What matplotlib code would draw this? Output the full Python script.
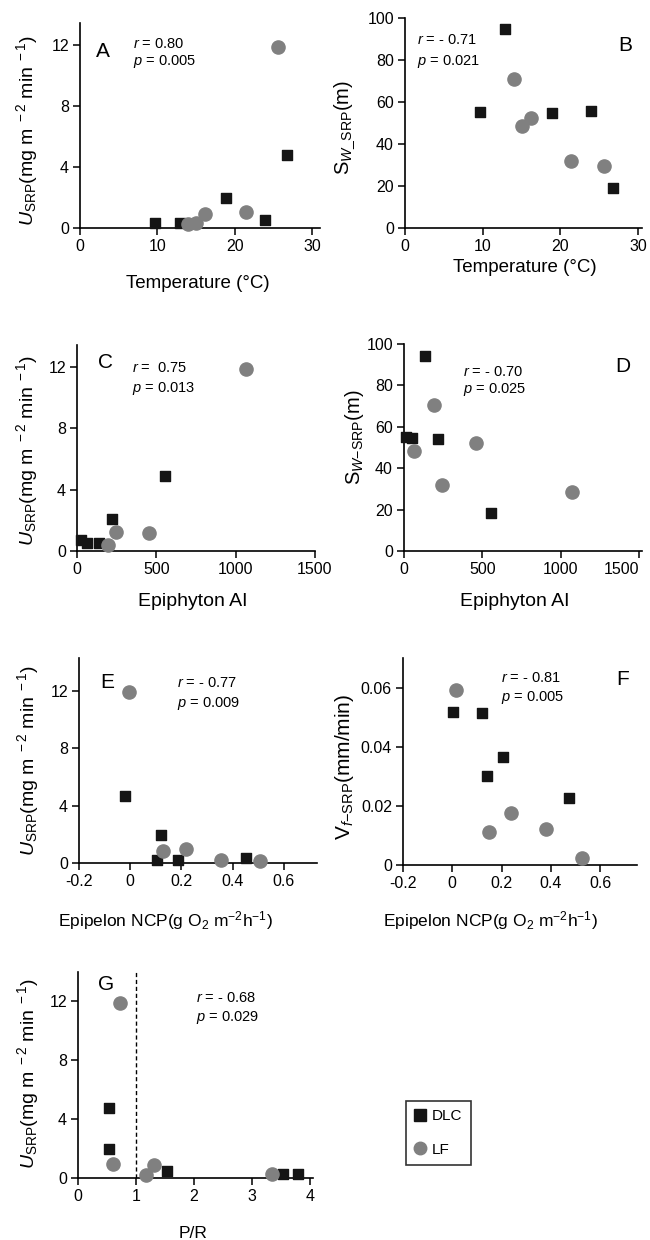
import matplotlib
matplotlib.use("Agg")
import matplotlib.pyplot as plt
from matplotlib.lines import Line2D

plt.rcParams['font.family'] = ['Liberation Sans', 'DejaVu Sans']
plt.rcParams['mathtext.fontset'] = 'custom'
plt.rcParams['mathtext.rm'] = 'Liberation Sans'
plt.rcParams['mathtext.it'] = 'Liberation Sans:italic'
plt.rcParams['mathtext.bf'] = 'Liberation Sans:bold'

# ---- data ----
# A: temperature vs U_SRP
a_dlc_x = [9.7, 12.9, 18.9, 23.9, 26.8]
a_dlc_y = [0.3, 0.3, 2.0, 0.5, 4.8]
a_lf_x = [14.0, 15.0, 16.2, 21.4, 25.6]
a_lf_y = [0.25, 0.3, 0.95, 1.05, 11.9]

# B: temperature vs Sw
b_dlc_x = [9.7, 12.9, 18.9, 23.9, 26.8]
b_dlc_y = [55.4, 94.9, 54.7, 55.9, 18.9]
b_lf_x = [14.0, 15.0, 16.2, 21.4, 25.6]
b_lf_y = [71.1, 48.6, 52.6, 32.1, 29.4]

# C: epiphyton AI vs U_SRP
c_dlc_x = [23, 63, 139, 221, 553]
c_dlc_y = [0.75, 0.5, 0.55, 2.1, 4.9]
c_lf_x = [196, 246, 453, 1063]
c_lf_y = [0.4, 1.25, 1.15, 11.9]

# D: epiphyton AI vs Sw
d_dlc_x = [11, 53, 134, 215, 553]
d_dlc_y = [55.3, 54.5, 94.0, 54.2, 18.2]
d_lf_x = [66, 191, 245, 457, 1070]
d_lf_y = [48.5, 70.3, 31.9, 52.1, 28.7]

# E: epipelon NCP vs U_SRP
e_dlc_x = [-0.019, 0.121, 0.103, 0.186, 0.453]
e_dlc_y = [4.7, 1.93, 0.19, 0.23, 0.35]
e_lf_x = [-0.006, 0.128, 0.219, 0.355, 0.509]
e_lf_y = [11.95, 0.86, 0.97, 0.19, 0.12]

# F: epipelon NCP vs Vf
f_dlc_x = [0.003, 0.122, 0.205, 0.143, 0.474]
f_dlc_y = [0.0518, 0.0513, 0.0364, 0.030, 0.0227]
f_lf_x = [0.014, 0.149, 0.24, 0.379, 0.528]
f_lf_y = [0.0592, 0.0112, 0.0177, 0.0121, 0.0022]

# G: P/R vs U_SRP
g_dlc_x = [0.54, 0.54, 1.53, 3.53, 3.79]
g_dlc_y = [4.77, 1.99, 0.48, 0.29, 0.29]
g_lf_x = [0.73, 0.60, 1.18, 1.31, 3.34]
g_lf_y = [11.9, 0.97, 0.18, 0.9, 0.25]

ncp_ticks = [-0.2, 0, 0.2, 0.4, 0.6]
ncp_labels = ['-0.2', '0', '0.2', '0.4', '0.6']
vf_ticks = [0, 0.02, 0.04, 0.06]
vf_labels = ['0', '0.02', '0.04', '0.06']

W, H = 650, 1240
fig = plt.figure(figsize=(6.5, 12.4), dpi=100)


def rect(l, r, t, b):
    return [l / W, 1 - b / H, (r - l) / W, (b - t) / H]


SQ = '#151515'
CI = '#808080'

u_label = r'$U_{\rm SRP}$(mg m$^{\rm\ -2}$ min$^{\rm\ -1}$)'
sw_label_b = r'S$_{W\rm\_SRP}$(m)'
sw_label_d = r'S$_{W\rm{-SRP}}$(m)'
vf_label = r'V$_{f\rm{-SRP}}$(mm/min)'
ncp_label = r'Epipelon NCP(g O$_2$ m$^{-2}$h$^{-1}$)'


def panel(box, dlc_x, dlc_y, lf_x, lf_y, xlim, ylim, xticks, yticks,
          letter, lpos, rtxt, ptxt, tpos, xticklabels=None, yticklabels=None):
    ax = fig.add_axes(rect(*box))
    ax.scatter(dlc_x, dlc_y, marker='s', s=62, color=SQ, zorder=3, clip_on=False)
    ax.scatter(lf_x, lf_y, marker='o', s=90, color=CI, zorder=3, clip_on=False)
    ax.set_xlim(*xlim)
    ax.set_ylim(*ylim)
    ax.set_xticks(xticks)
    ax.set_yticks(yticks)
    if xticklabels is not None:
        ax.set_xticklabels(xticklabels)
    if yticklabels is not None:
        ax.set_yticklabels(yticklabels)
    for s in ['top', 'right']:
        ax.spines[s].set_visible(False)
    for s in ['left', 'bottom']:
        ax.spines[s].set_linewidth(1.2)
    ax.tick_params(direction='out', length=5, width=1.1, labelsize=11.5, pad=3)
    ax.text(lpos[0], lpos[1], letter, transform=ax.transAxes, fontsize=15,
            ha='center', va='center')
    ax.text(tpos[0], tpos[1], rtxt, transform=ax.transAxes, fontsize=10.5,
            ha='left', va='center')
    ax.text(tpos[0], tpos[2], ptxt, transform=ax.transAxes, fontsize=10.5,
            ha='left', va='center')
    return ax


axA = panel((80, 320, 23, 228), a_dlc_x, a_dlc_y, a_lf_x, a_lf_y,
            (0, 31), (0, 13.45), [0, 10, 20, 30], [0, 4, 8, 12],
            'A', (0.096, 0.86), r'$r$ = 0.80', r'$p$ = 0.005', (0.22, 0.90, 0.81))
axB = panel((405, 642, 18, 228), b_dlc_x, b_dlc_y, b_lf_x, b_lf_y,
            (0, 30.5), (0, 100), [0, 10, 20, 30], [0, 20, 40, 60, 80, 100],
            'B', (0.93, 0.87), r'$r$ = - 0.71', r'$p$ = 0.021', (0.05, 0.895, 0.795))
axC = panel((77, 315, 345, 551), c_dlc_x, c_dlc_y, c_lf_x, c_lf_y,
            (0, 1500), (0, 13.45), [0, 500, 1000, 1500], [0, 4, 8, 12],
            'C', (0.118, 0.917), r'$r$ =  0.75', r'$p$ = 0.013', (0.23, 0.888, 0.79))
axD = panel((404, 642, 344, 551), d_dlc_x, d_dlc_y, d_lf_x, d_lf_y,
            (0, 1520), (0, 100), [0, 500, 1000, 1500], [0, 20, 40, 60, 80, 100],
            'D', (0.92, 0.89), r'$r$ = - 0.70', r'$p$ = 0.025', (0.248, 0.865, 0.778))
axE = panel((79, 317, 658, 863), e_dlc_x, e_dlc_y, e_lf_x, e_lf_y,
            (-0.2, 0.73), (0, 14.3), ncp_ticks, [0, 4, 8, 12],
            'E', (0.118, 0.88), r'$r$ = - 0.77', r'$p$ = 0.009', (0.41, 0.878, 0.78),
            xticklabels=ncp_labels)
axF = panel((403, 637, 658, 865), f_dlc_x, f_dlc_y, f_lf_x, f_lf_y,
            (-0.2, 0.75), (0, 0.07), ncp_ticks, vf_ticks,
            'F', (0.94, 0.894), r'$r$ = - 0.81', r'$p$ = 0.005', (0.42, 0.903, 0.807),
            xticklabels=ncp_labels, yticklabels=vf_labels)
axG = panel((78, 313, 972, 1178), g_dlc_x, g_dlc_y, g_lf_x, g_lf_y,
            (0, 4.05), (0, 14.0), [0, 1, 2, 3, 4], [0, 4, 8, 12],
            'G', (0.12, 0.937), r'$r$ = - 0.68', r'$p$ = 0.029', (0.5, 0.874, 0.777))
axG.axvline(1, color='black', linestyle='--', linewidth=1.0, dashes=(3, 2))

# keep the cut-off 1500 label of D inside the canvas
axD.get_xticklabels()[-1].set_ha('right')


# axis labels placed in figure pixels
def flabel(x, y, s, rot=0, size=12.5):
    fig.text(x / W, 1 - y / H, s, rotation=rot, ha='center', va='center', fontsize=size)


flabel(198, 283, 'Temperature (°C)', size=13.5)
flabel(525, 267, 'Temperature (°C)', size=13.5)
flabel(193, 602, 'Epiphyton AI', size=14)
flabel(515, 602, 'Epiphyton AI', size=14)
flabel(165, 921, ncp_label)
flabel(490, 921, ncp_label)
flabel(193, 1233, 'P/R')

flabel(27, 130, u_label, rot=90, size=14)
flabel(345, 127, sw_label_b, rot=90, size=14.5)
flabel(27, 450, u_label, rot=90, size=14)
flabel(355, 437, sw_label_d, rot=90, size=14.5)
flabel(28, 760, u_label, rot=90, size=14)
flabel(345, 767, vf_label, rot=90, size=15)
flabel(28, 1073, u_label, rot=90, size=14)

handles = [Line2D([], [], marker='s', color=SQ, linestyle='none', markersize=8),
           Line2D([], [], marker='o', color=CI, linestyle='none', markersize=9)]
leg = fig.legend(handles, ['DLC', 'LF'], loc='upper left',
                 bbox_to_anchor=(406 / W, 1 - 1101 / H), borderaxespad=0,
                 frameon=True, fancybox=False, fontsize=11, labelspacing=1.25,
                 handlelength=0.7, handletextpad=0.45, borderpad=0.55)
leg.get_frame().set_edgecolor('black')
leg.get_frame().set_linewidth(1.2)

fig.savefig('out.png', dpi=100)
